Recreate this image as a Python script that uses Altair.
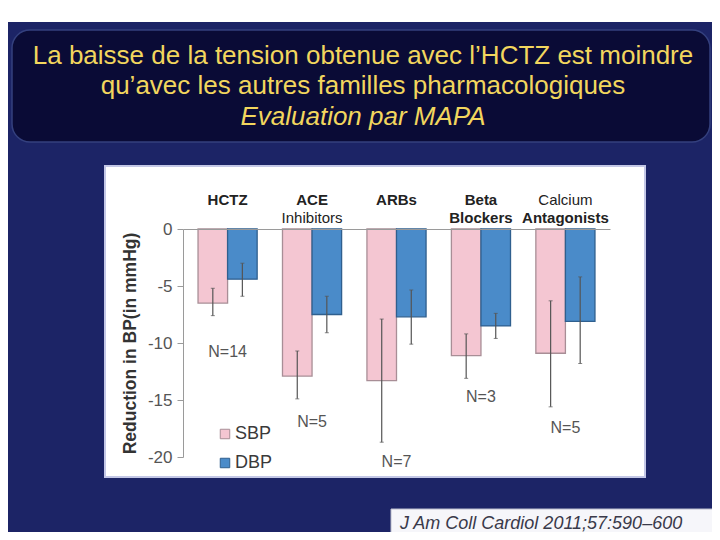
import altair as alt
import pandas as pd

# ---------------- data ----------------
categories = ["HCTZ", "ACE Inhibitors", "ARBs", "Beta Blockers", "Calcium Antagonists"]
series = ["SBP", "DBP"]
sbp = [-6.5, -12.9, -13.3, -11.1, -10.9]
dbp = [-4.4, -7.5, -7.7, -8.5, -8.1]
sbp_err_top = [-5.2, -10.7, -7.9, -9.2, -6.3]
sbp_err_bottom = [-7.6, -14.9, -18.7, -13.1, -15.6]
dbp_err_top = [-3.0, -5.9, -5.35, -7.4, -4.2]
dbp_err_bottom = [-5.9, -9.1, -10.1, -9.6, -11.8]
cat_line1 = ["HCTZ", "ACE", "ARBs", "Beta", "Calcium"]
cat_line2 = ["", "Inhibitors", "", "Blockers", "Antagonists"]
line1_bold = [True, True, True, True, False]
line2_bold = [False, False, False, True, True]
n_labels = ["N=14", "N=5", "N=7", "N=3", "N=5"]
n_label_y = [-10.8, -16.9, -20.4, -14.7, -17.45]
y_ticks = [0, -5, -10, -15, -20]
title_lines = [
    "La baisse de la tension obtenue avec l\u2019HCTZ est moindre",
    "qu\u2019avec les autres familles pharmacologiques",
    "Evaluation par MAPA",
]
citation = "J Am Coll Cardiol 2011;57:590\u2013600"
y_title = "Reduction in BP(in mmHg)"

# ---------------- tables ----------------
rows = []
for i, c in enumerate(categories):
    rows.append({"cat": c, "series": "SBP", "value": sbp[i], "hi": sbp_err_top[i], "lo": sbp_err_bottom[i]})
    rows.append({"cat": c, "series": "DBP", "value": dbp[i], "hi": dbp_err_top[i], "lo": dbp_err_bottom[i]})
bars_df = pd.DataFrame(rows)

lab_rows = []
for i, c in enumerate(categories):
    lab_rows.append({"cat": c, "text": cat_line1[i], "line": 1, "bold": line1_bold[i]})
    if cat_line2[i]:
        lab_rows.append({"cat": c, "text": cat_line2[i], "line": 2, "bold": line2_bold[i]})
labels_df = pd.DataFrame(lab_rows)

n_df = pd.DataFrame({"cat": categories, "n": n_labels, "ny": n_label_y})
one = pd.DataFrame({"k": [0]})

FONT = "Liberation Sans"
PINK = "#f4c6d2"
BLUE = "#4a8bc9"
GOLD = "#f2d65e"

x_enc = alt.X("cat:N", sort=categories,
              scale=alt.Scale(paddingInner=0.3, paddingOuter=0.178),
              axis=alt.Axis(orient="top", labels=False, ticks=False, title=None,
                            domainColor="#9a9a9a", domainWidth=1.2, zindex=1))
y_scale = alt.Scale(domain=[-20, 0], nice=False, zero=False)
xo = alt.XOffset("series:N", sort=series, scale=alt.Scale(paddingInner=0, paddingOuter=0))

# ---------------- decorations ----------------
bg = alt.Chart(one).mark_rect(color="#1c2466").encode(
    x=alt.value(-176), x2=alt.value(530), y=alt.value(-207), y2=alt.value(304))
title_box = alt.Chart(one).mark_rect(color="#0a0b36", cornerRadius=18, stroke="#34407e", strokeWidth=1.5).encode(
    x=alt.value(-171), x2=alt.value(527), y=alt.value(-199), y2=alt.value(-87))
panel = alt.Chart(one).mark_rect(color="white", stroke="#c3c7e6", strokeWidth=2).encode(
    x=alt.value(-78), x2=alt.value(462), y=alt.value(-63), y2=alt.value(248))
cite_box = alt.Chart(one).mark_rect(color="#f6f6fa", stroke="#b9bccc", strokeWidth=1).encode(
    x=alt.value(208), x2=alt.value(530), y=alt.value(280), y2=alt.value(320))
cite_text = alt.Chart(one).mark_text(
    text=citation, font=FONT, fontSize=18, fontStyle="italic", color="#3a3a4a",
    align="left", baseline="middle").encode(x=alt.value(217), y=alt.value(295))

t1 = alt.Chart(one).mark_text(text=title_lines[0], font=FONT, fontSize=26, color=GOLD,
                              align="center", baseline="middle").encode(x=alt.value(180), y=alt.value(-173))
t2 = alt.Chart(one).mark_text(text=title_lines[1], font=FONT, fontSize=26, color=GOLD,
                              align="center", baseline="middle").encode(x=alt.value(180), y=alt.value(-143))
t3 = alt.Chart(one).mark_text(text=title_lines[2], font=FONT, fontSize=26, fontStyle="italic", color=GOLD,
                              align="center", baseline="middle").encode(x=alt.value(180), y=alt.value(-112))

# ---------------- bars ----------------
bars = alt.Chart(bars_df).mark_bar(strokeWidth=1.3).encode(
    x=x_enc,
    xOffset=xo,
    y=alt.Y("value:Q", scale=y_scale,
            axis=alt.Axis(values=y_ticks, grid=False, title=y_title, labelFont=FONT,
                          labelExpr="datum.value == 0 ? '0' : '-' + abs(datum.value)",
                          labelFontSize=17, labelColor="#555555", tickColor="#9a9a9a",
                          domainColor="#9a9a9a", tickSize=6, labelPadding=5,
                          titleFont=FONT, titleFontSize=17.5, titleFontWeight="bold",
                          titleColor="#333333", titlePadding=8, zindex=1)),
    color=alt.Color("series:N", sort=series,
                    scale=alt.Scale(domain=series, range=[PINK, BLUE]),
                    legend=alt.Legend(orient="none", legendX=33, legendY=196, title=None,
                                      symbolType="square", symbolSize=90,
                                      symbolStrokeColor="#8a8a8a", symbolStrokeWidth=1,
                                      labelFont=FONT, labelFontSize=18, labelColor="#3a3a3a",
                                      rowPadding=11, labelOffset=1)),
    stroke=alt.Stroke("series:N", sort=series,
                      scale=alt.Scale(domain=series, range=["#a88e96", "#2f5f8e"]),
                      legend=None),
)

err = alt.Chart(bars_df).mark_rule(color="#555555", strokeWidth=1.2).encode(
    x=alt.X("cat:N", sort=categories), xOffset=xo,
    y=alt.Y("hi:Q", scale=y_scale), y2="lo:Q")
cap_hi = alt.Chart(bars_df).mark_tick(color="#555555", size=4, thickness=1, orient="horizontal").encode(
    x=alt.X("cat:N", sort=categories), xOffset=xo, y=alt.Y("hi:Q", scale=y_scale))
cap_lo = alt.Chart(bars_df).mark_tick(color="#555555", size=4, thickness=1, orient="horizontal").encode(
    x=alt.X("cat:N", sort=categories), xOffset=xo, y=alt.Y("lo:Q", scale=y_scale))

nlab = alt.Chart(n_df).mark_text(font=FONT, fontSize=16, color="#555555", baseline="middle").encode(
    x=alt.X("cat:N", sort=categories), y=alt.Y("ny:Q", scale=y_scale), text="n:N")

lab1b = alt.Chart(labels_df).transform_filter("datum.line == 1 && datum.bold").mark_text(
    font=FONT, fontSize=15, fontWeight="bold", color="#222222", baseline="middle").encode(
    x=alt.X("cat:N", sort=categories), y=alt.value(-29), text="text:N")
lab1n = alt.Chart(labels_df).transform_filter("datum.line == 1 && !datum.bold").mark_text(
    font=FONT, fontSize=15, color="#222222", baseline="middle").encode(
    x=alt.X("cat:N", sort=categories), y=alt.value(-29), text="text:N")
lab2b = alt.Chart(labels_df).transform_filter("datum.line == 2 && datum.bold").mark_text(
    font=FONT, fontSize=15, fontWeight="bold", color="#222222", baseline="middle").encode(
    x=alt.X("cat:N", sort=categories), y=alt.value(-11), text="text:N")
lab2n = alt.Chart(labels_df).transform_filter("datum.line == 2 && !datum.bold").mark_text(
    font=FONT, fontSize=15, color="#222222", baseline="middle").encode(
    x=alt.X("cat:N", sort=categories), y=alt.value(-11), text="text:N")

chart = alt.layer(
    bg, title_box, t1, t2, t3, panel, cite_box, cite_text,
    bars, err, cap_hi, cap_lo, nlab, lab1b, lab1n, lab2b, lab2n
).properties(
    width=427, height=228,
    autosize=alt.AutoSizeParams(type="none"),
    padding={"left": 175, "top": 221, "right": 102, "bottom": 75},
    background="white",
).configure_view(strokeWidth=0)

chart.save("out.html", embed_options={"renderer": "svg", "actions": False})
